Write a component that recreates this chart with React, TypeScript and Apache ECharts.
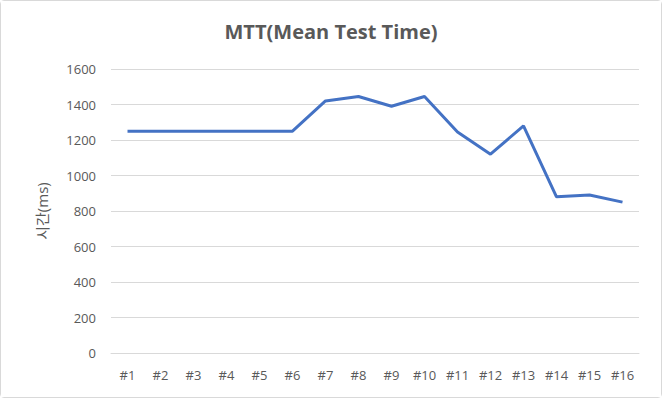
import React, { useEffect, useRef } from "react";
import * as echarts from "echarts";

const categories = ["#1", "#2", "#3", "#4", "#5", "#6", "#7", "#8", "#9", "#10", "#11", "#12", "#13", "#14", "#15", "#16"];
const mttValues = [1250, 1250, 1250, 1250, 1250, 1250, 1420, 1445, 1390, 1445, 1245, 1120, 1280, 880, 890, 850];
const chartTitle = "MTT(Mean Test Time)";
const yAxisTitle = "시간(ms)";

export default function App() {
  const ref = useRef<HTMLDivElement>(null);
  useEffect(() => {
    if (!ref.current) return;
    const chart = echarts.init(ref.current, undefined, { renderer: "svg" });
    const font = "'Open Sans', 'Noto Sans', 'Noto Sans CJK KR', sans-serif";
    chart.setOption({
      animation: false,
      backgroundColor: "#ffffff",
      title: {
        text: chartTitle,
        left: "center",
        top: 15,
        textStyle: { fontFamily: font, fontSize: 20, fontWeight: "bold", color: "#595959" },
      },
      grid: { left: 110, right: 22, top: 68, bottom: 44, containLabel: false },
      xAxis: {
        type: "category",
        data: categories,
        boundaryGap: true,
        axisLine: { show: true, lineStyle: { color: "#d9d9d9", width: 1 } },
        axisTick: { show: false },
        axisLabel: { color: "#595959", fontFamily: font, fontSize: 13, margin: 15 },
      },
      yAxis: {
        type: "value",
        min: 0,
        max: 1600,
        interval: 200,
        name: yAxisTitle,
        nameLocation: "middle",
        nameGap: 62,
        nameRotate: 90,
        nameTextStyle: { color: "#595959", fontFamily: font, fontSize: 15 },
        axisLine: { show: false },
        axisTick: { show: false },
        axisLabel: { color: "#595959", fontFamily: font, fontSize: 13, margin: 15, formatter: (v: number) => String(v) },
        splitLine: { lineStyle: { color: "#d9d9d9", width: 1 } },
      },
      series: [
        {
          type: "line",
          data: mttValues,
          symbol: "none",
          lineStyle: { color: "#4472C4", width: 3 },
          itemStyle: { color: "#4472C4" },
        },
      ],
    });
    return () => chart.dispose();
  }, []);
  return (
    <div style={{ position: "fixed", left: 0, top: 0, width: 662, height: 398, boxSizing: "border-box", border: "1px solid #d9d9d9", borderRadius: 4, background: "#fff" }}>
      <div ref={ref} style={{ width: 660, height: 396 }} />
    </div>
  );
}
